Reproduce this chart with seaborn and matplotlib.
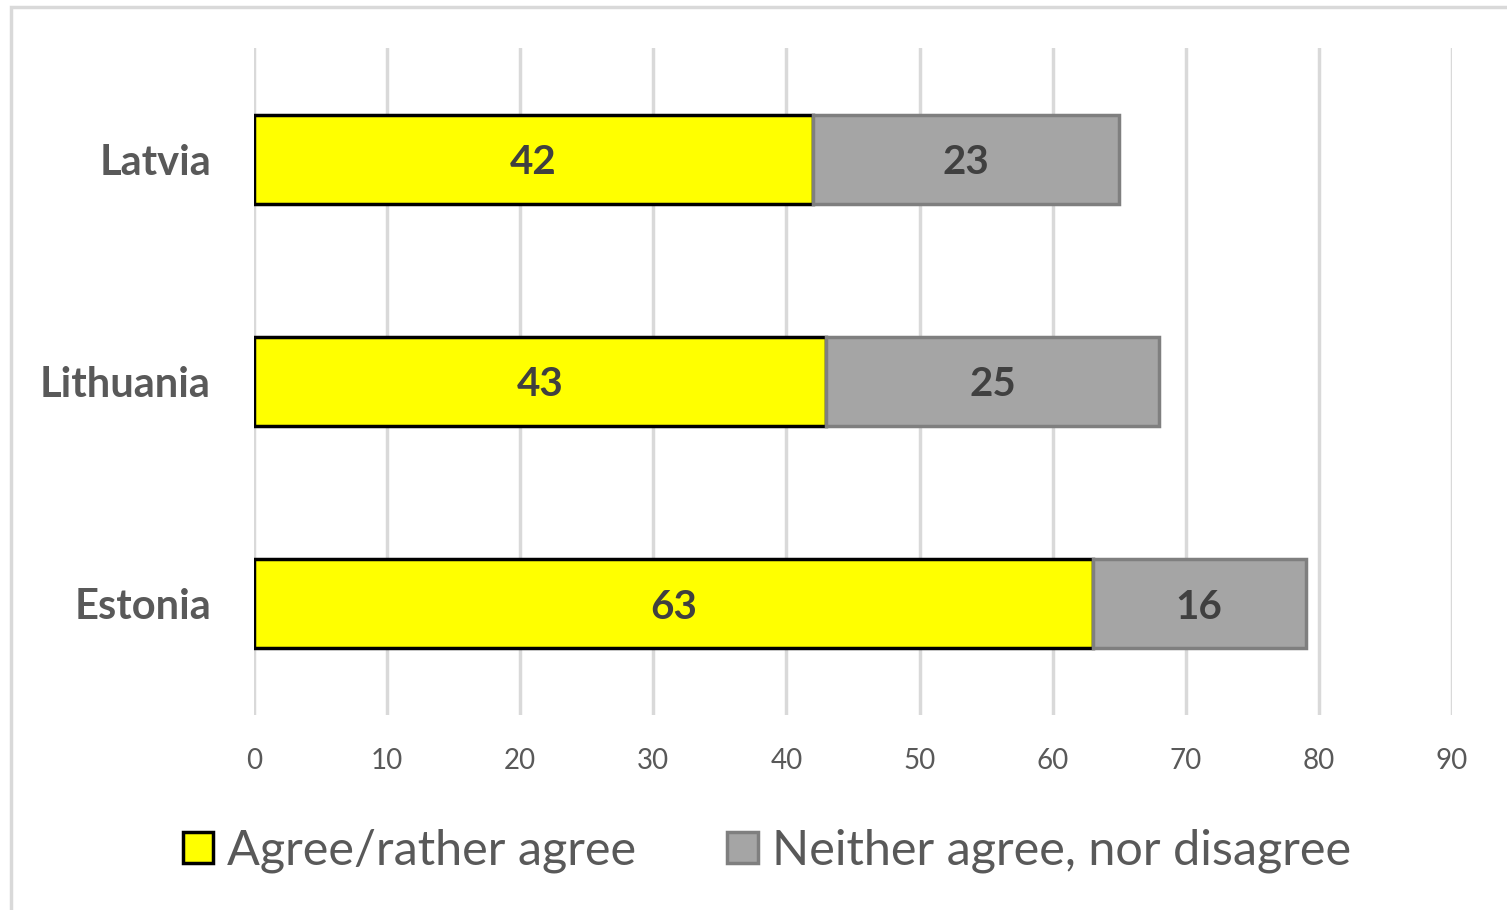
import matplotlib
matplotlib.use("Agg")
import numpy as np
import pandas as pd
import seaborn as sns
from matplotlib import pyplot as plt
from matplotlib.patches import Rectangle, Patch

countries = ["Latvia", "Lithuania", "Estonia"]
agree = [42, 43, 63]
neither = [23, 25, 16]
series_names = ["Agree/rather agree", "Neither agree, nor disagree"]
x_ticks = [0, 10, 20, 30, 40, 50, 60, 70, 80, 90]

df = pd.DataFrame({"country": countries, "agree": agree, "neither": neither})

sns.set_theme(style="white")
plt.rcParams["font.family"] = ["Lato", "DejaVu Sans"]

fig = plt.figure(figsize=(15.07, 9.10), dpi=100)
ax = fig.add_axes([254 / 1507, 1 - 715 / 910, (1452 - 254) / 1507, (715 - 48) / 910])

# outer light border like the Excel chart area
fig.patches.append(Rectangle((11 / 1507, -0.1), 1.2, 1 - 7 / 910 + 0.1,
                             transform=fig.transFigure, fill=False,
                             edgecolor="#d9d9d9", linewidth=2.5, zorder=0))

sns.barplot(data=df, y="country", x="agree", order=countries, orient="h",
            color="#ffff00", saturation=1, width=0.4, edgecolor="black",
            linewidth=2.5, ax=ax, zorder=3)
sns.barplot(data=df, y="country", x="neither", order=countries, orient="h",
            color="#a5a5a5", saturation=1, width=0.4, edgecolor="#7f7f7f",
            linewidth=2.5, left=df["agree"].values, ax=ax, zorder=3)

for i, (a, n) in enumerate(zip(agree, neither)):
    ax.text(a / 2, i, str(a), ha="center", va="center_baseline", fontsize=29,
            fontweight="bold", color="#404040", zorder=5)
    ax.text(a + n / 2, i, str(n), ha="center", va="center_baseline", fontsize=29,
            fontweight="bold", color="#404040", zorder=5)

ax.set_xlim(0, 90)
ax.set_ylim(2.5, -0.5)
ax.set_xticks(x_ticks)
ax.xaxis.grid(True, color="#d9d9d9", linewidth=2.5)
ax.set_axisbelow(True)
for s in ax.spines.values():
    s.set_visible(False)
ax.set_xlabel("")
ax.set_ylabel("")
ax.tick_params(axis="x", labelsize=20, colors="#595959", length=0, pad=24)
ax.tick_params(axis="y", labelsize=30, colors="#595959", length=0, pad=31)
for lab in ax.get_yticklabels():
    lab.set_fontweight("bold")

handles = [Patch(facecolor="#ffff00", edgecolor="black", linewidth=2.5),
           Patch(facecolor="#a5a5a5", edgecolor="#7f7f7f", linewidth=2.5)]
leg = fig.legend(handles, series_names, loc="center", bbox_to_anchor=(767 / 1507, 1 - 851 / 910),
                 ncol=2, frameon=False, fontsize=35, handlelength=0.62, handleheight=0.62,
                 handletextpad=0.3, columnspacing=1.87)
for t in leg.get_texts():
    t.set_color("#595959")

fig.savefig("out.png", dpi=100)
